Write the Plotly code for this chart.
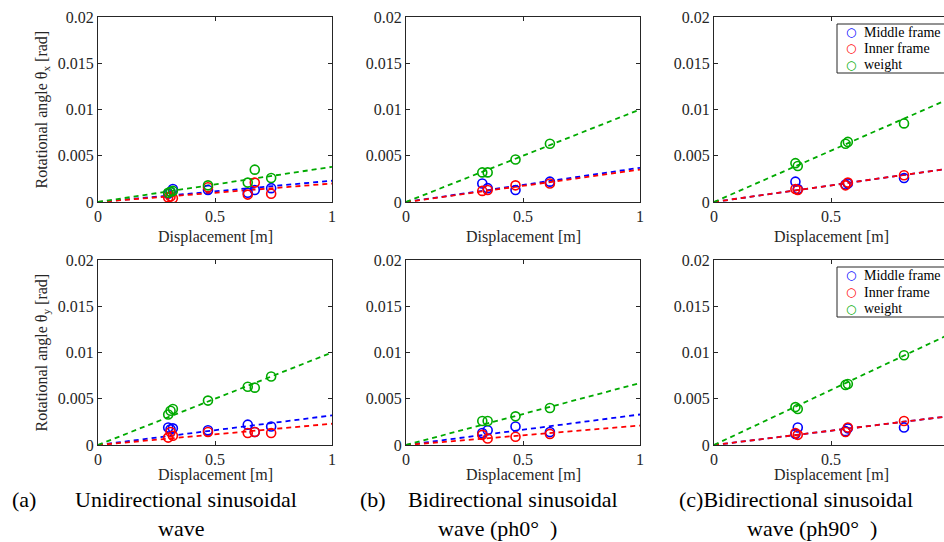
import plotly.graph_objects as go

W, H = 944, 542
FONT = "Times New Roman, Liberation Serif, DejaVu Serif, serif"
TXT = "#262626"
BLUE, RED, GREEN = "#0000FF", "#FF0000", "#00AA00"

series_names = ["Middle frame", "Inner frame", "weight"]
series_colors = [BLUE, RED, GREEN]

# ---- data: (a) unidirectional sinusoidal wave ----
xa = [0.30, 0.31, 0.32, 0.47, 0.64, 0.67, 0.74]
a_tx_middle = [0.0009, 0.0011, 0.0014, 0.0013, 0.0010, 0.0013, 0.0015]
a_tx_inner = [0.0005, 0.0006, 0.0004, 0.0016, 0.0008, 0.0021, 0.0009]
a_tx_weight = [0.0010, 0.0011, 0.0012, 0.0018, 0.0021, 0.0035, 0.0026]
a_ty_middle = [0.0019, 0.0017, 0.0018, 0.0016, 0.0022, 0.0014, 0.0020]
a_ty_inner = [0.0008, 0.0014, 0.0010, 0.0014, 0.0013, 0.0014, 0.0013]
a_ty_weight = [0.0033, 0.0037, 0.0039, 0.0048, 0.0063, 0.0062, 0.0074]
a_tx_slope = [0.0023, 0.0020, 0.0038]
a_ty_slope = [0.0032, 0.0023, 0.0100]

# ---- data: (b) bidirectional sinusoidal wave (ph0) ----
xb = [0.326, 0.349, 0.468, 0.615]
b_tx_middle = [0.0020, 0.0015, 0.0013, 0.0022]
b_tx_inner = [0.0012, 0.0013, 0.0018, 0.0020]
b_tx_weight = [0.0032, 0.0032, 0.0046, 0.0063]
b_ty_middle = [0.0013, 0.0016, 0.0020, 0.0014]
b_ty_inner = [0.0011, 0.0007, 0.0009, 0.0012]
b_ty_weight = [0.0026, 0.0026, 0.0031, 0.0040]
b_tx_slope = [0.0037, 0.0035, 0.0100]
b_ty_slope = [0.0033, 0.0021, 0.0067]

# ---- data: (c) bidirectional sinusoidal wave (ph90) ----
xc = [0.348, 0.358, 0.562, 0.572, 0.812]
c_tx_middle = [0.0022, 0.0014, 0.0019, 0.0020, 0.0026]
c_tx_inner = [0.0014, 0.0013, 0.0018, 0.0021, 0.0029]
c_tx_weight = [0.0042, 0.0039, 0.0063, 0.0065, 0.0085]
c_ty_middle = [0.0012, 0.0019, 0.0015, 0.0018, 0.0019]
c_ty_inner = [0.0013, 0.0011, 0.0014, 0.0019, 0.0026]
c_ty_weight = [0.0041, 0.0039, 0.0065, 0.0066, 0.0097]
c_tx_slope = [0.0036, 0.0036, 0.0111]
c_ty_slope = [0.0031, 0.0031, 0.0119]

fit_x = [0, 1]

y_ticks = [0, 0.005, 0.01, 0.015, 0.02]
y_ticktext = ["0", "0.005", "0.01", "0.015", "0.02"]
x_ticks = [0, 0.5, 1]
x_ticktext = ["0", "0.5", "1"]

captions_line1 = ["(a)", "Unidirectional sinusoidal", "(b)", "Bidirectional sinusoidal", "(c)Bidirectional sinusoidal"]
captions_line2 = ["wave", "wave (ph0°\u00a0\u00a0)", "wave (ph90°\u00a0\u00a0)"]

panels = [
    (xa, [a_tx_middle, a_tx_inner, a_tx_weight], a_tx_slope),
    (xb, [b_tx_middle, b_tx_inner, b_tx_weight], b_tx_slope),
    (xc, [c_tx_middle, c_tx_inner, c_tx_weight], c_tx_slope),
    (xa, [a_ty_middle, a_ty_inner, a_ty_weight], a_ty_slope),
    (xb, [b_ty_middle, b_ty_inner, b_ty_weight], b_ty_slope),
    (xc, [c_ty_middle, c_ty_inner, c_ty_weight], c_ty_slope),
]

# pixel layout
col_px = [(98, 332), (406, 640), (714, 944)]
row_px = [(17, 202), (260, 445)]
xtitle_px = [237, 475]
PX_PER_UNIT = 234.0

fig = go.Figure()

for i, (xs, ys, slopes) in enumerate(panels):
    n = i + 1
    xr = f"x{n}" if n > 1 else "x"
    yr = f"y{n}" if n > 1 else "y"
    for k in range(3):
        fig.add_trace(go.Scatter(
            x=fit_x, y=[0, slopes[k]], mode="lines", xaxis=xr, yaxis=yr,
            line=dict(color=series_colors[k], width=1.8, dash="5px,4px"),
            showlegend=False, hoverinfo="skip"))
    for k in range(3):
        fig.add_trace(go.Scatter(
            x=xs, y=ys[k], mode="markers", xaxis=xr, yaxis=yr,
            name=series_names[k], showlegend=False,
            marker=dict(symbol="circle-open", size=9, color=series_colors[k],
                        line=dict(width=1.6, color=series_colors[k]))))

layout = dict(
    width=W, height=H, margin=dict(l=0, r=0, t=0, b=0, autoexpand=False),
    paper_bgcolor="white", plot_bgcolor="white", showlegend=False,
    font=dict(family=FONT, size=16, color=TXT),
)

for i in range(6):
    n = i + 1
    r, c = divmod(i, 3)
    x0, x1 = col_px[c]
    y0, y1 = row_px[r]
    xname = "xaxis" if n == 1 else f"xaxis{n}"
    yname = "yaxis" if n == 1 else f"yaxis{n}"
    xmax = 1.0 if c < 2 else (x1 - x0) / PX_PER_UNIT
    layout[xname] = dict(
        domain=[x0 / W, x1 / W], anchor=("y" if n == 1 else f"y{n}"),
        range=[0, xmax], tickvals=x_ticks, ticktext=x_ticktext,
        ticks="inside", ticklen=4, tickcolor=TXT, showline=True, linecolor=TXT,
        linewidth=1, mirror="ticks", showgrid=False, zeroline=False, automargin=False,
        tickfont=dict(family=FONT, size=16, color=TXT), fixedrange=True)
    layout[yname] = dict(
        domain=[1 - y1 / H, 1 - y0 / H], anchor=("x" if n == 1 else f"x{n}"),
        range=[0, 0.02], tickvals=y_ticks, ticktext=y_ticktext,
        ticks="inside", ticklen=4, tickcolor=TXT, showline=True, linecolor=TXT,
        linewidth=1, mirror=("ticks" if c < 2 else False), showgrid=False,
        zeroline=False, automargin=False,
        tickfont=dict(family=FONT, size=16, color=TXT), fixedrange=True)

annotations = []
shapes = []
# y axis titles
for r, sub in enumerate(["x", "y"]):
    y0, y1 = row_px[r]
    annotations.append(dict(
        text=f"Rotational angle θ<sub>{sub}</sub> [rad]", textangle=-90,
        x=42 / W, y=1 - (y0 + y1) / 2 / H, xref="paper", yref="paper",
        xanchor="center", yanchor="middle", showarrow=False,
        font=dict(family=FONT, size=16, color=TXT)))
# x axis titles
for r in range(2):
    for c in range(3):
        x0 = col_px[c][0]
        xc_px = x0 + PX_PER_UNIT / 2
        annotations.append(dict(
            text="Displacement [m]", x=xc_px / W, y=1 - xtitle_px[r] / H,
            xref="paper", yref="paper", xanchor="center", yanchor="middle",
            showarrow=False, font=dict(family=FONT, size=16, color=TXT)))
# captions
cap_font = dict(family=FONT, size=22, color="black")
cap1_pos = [10, 73, 358, 406, 677]
for txt, px in zip(captions_line1, cap1_pos):
    annotations.append(dict(text=txt, x=px / W, y=1 - 499 / H, xref="paper", yref="paper",
                            xanchor="left", yanchor="middle", showarrow=False, font=cap_font))
cap2_pos = [181, 497, 812]
for txt, px in zip(captions_line2, cap2_pos):
    annotations.append(dict(text=txt, x=px / W, y=1 - 528 / H, xref="paper", yref="paper",
                            xanchor="center", yanchor="middle", showarrow=False, font=cap_font))

# legends (panel c, both rows)
legend_boxes = [(24, 73), (267, 317)]
for top, bot in legend_boxes:
    shapes.append(dict(type="rect", xref="paper", yref="paper",
                       x0=837 / W, x1=1.02, y0=1 - bot / H, y1=1 - top / H,
                       line=dict(color=TXT, width=1), fillcolor="white", layer="above"))
    row_h = (bot - top) / 3
    for k in range(3):
        yc = top + row_h * (k + 0.5)
        annotations.append(dict(
            text="○", x=851 / W, y=1 - yc / H, xref="paper", yref="paper",
            xanchor="center", yanchor="middle", showarrow=False,
            font=dict(family="DejaVu Sans", size=12, color=series_colors[k], weight="bold")))
        annotations.append(dict(
            text=series_names[k], x=862 / W, y=1 - yc / H, xref="paper", yref="paper",
            xanchor="left", yanchor="middle", showarrow=False,
            font=dict(family=FONT, size=14, color="black")))

layout["annotations"] = annotations
layout["shapes"] = shapes

fig.update_layout(**layout)
fig.write_html("out.html")
